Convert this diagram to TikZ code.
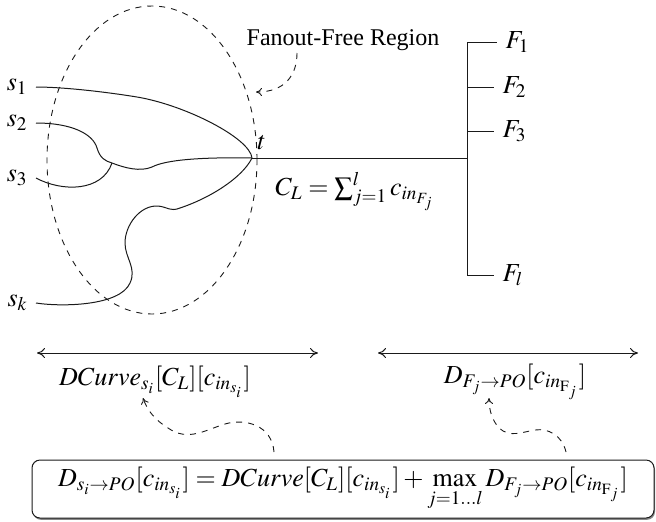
\documentclass[tikz,border=0pt]{standalone}
\usepackage{mathptmx}
\usepackage{fontspec}
\newfontfamily\labelfont{Liberation Serif}
\usetikzlibrary{arrows.meta, positioning, shapes.geometric, shadows}
\definecolor{cink}{HTML}{1A1A1A}
\definecolor{cshade}{HTML}{7A7A7A}
\tikzset{
  every picture/.style={line width=0.5pt},
  wire/.style={draw=cink},
  region/.style={ellipse, draw=cink, dashed, line width=0.45pt},
  pointer/.style={draw=cink, dashed, line width=0.45pt, -{To[length=3pt, width=4pt]}},
  span/.style={draw=cink, {To[length=4pt, width=5pt]}-{To[length=4pt, width=5pt]}},
  pin/.style={inner sep=4pt},
  formula/.style={draw=cink, rounded corners=4pt, fill=white,
    drop shadow={shadow xshift=0.5pt, shadow yshift=-0.9pt, fill=cshade, opacity=0.9}},
}

\begin{document}
\begin{tikzpicture}[x=0.5pt, y=-0.5pt,
    every node/.append style={font=\fontsize{13}{15.6}\selectfont},
  ]
  \useasboundingbox (0,0) rectangle (656,521);

  % fanout-free region
  \node[region, minimum width=105pt, minimum height=154pt] (ffr) at (152,160) {};
  \node[font=\labelfont\fontsize{12}{14.4}\selectfont] (ffrlab) at (343,40) {Fanout-Free Region};
  \coordinate (ffrfrom) at (297,53);
  \coordinate (ffrto) at (256,92);
  \draw[pointer] (ffrfrom) .. controls (297,75) and (285,92) .. (ffrto);

  % sources
  \node[pin, anchor=east] (s1) at (36,87)  {$s_1$};
  \node[pin, anchor=east] (s2) at (36,123) {$s_2$};
  \node[pin, anchor=east] (s3) at (36,178) {$s_3$};
  \node[pin, anchor=east] (sk) at (36,303) {$s_k$};
  \coordinate (t) at (252,158);
  \coordinate (merge) at (112,163);
  \node[anchor=south west, inner sep=1pt] (tlab) at (255,152) {$t$};

  \draw[wire] (s1.east) .. controls (60,87) and (100,91) .. (137,97)
    .. controls (185,105) and (250,138) .. (t);
  \draw[wire] (s2.east) .. controls (72,123) and (93,134) .. (97,148)
    .. controls (100,158) and (105,161) .. (merge)
    .. controls (125,168) and (140,172) .. (152,167)
    .. controls (165,160) and (200,157) .. (t);
  \draw[wire] (s3.east) .. controls (62,192) and (102,192) .. (merge);
  \draw[wire] (sk.east) .. controls (62,307) and (120,306) .. (130,283)
    .. controls (137,268) and (125,258) .. (125,243)
    .. controls (125,225) and (140,205) .. (158,206)
    .. controls (168,207) and (170,212) .. (180,208)
    .. controls (210,198) and (242,178) .. (t);

  % load and fanout branches
  \coordinate (bus) at (467,158);
  \coordinate (bustop) at (467,42);
  \coordinate (busbot) at (467,275);
  \draw[wire] (t) -- (bus);
  \draw[wire] (bustop) -- (busbot);
  \node[anchor=north] (cl) at (355,165) {$C_L = \sum_{j=1}^{l} c_{in_{F_j}}$};
  \node[pin, anchor=west] (f1) at (497,42)  {$F_1$};
  \node[pin, anchor=west] (f2) at (494,87)  {$F_2$};
  \node[pin, anchor=west] (f3) at (494,131) {$F_3$};
  \node[pin, anchor=west] (fl) at (494,275) {$F_l$};
  \foreach \f in {f1, f2, f3, fl} \draw[wire] (bustop |- \f.west) -- (\f.west);

  % delay spans
  \coordinate (lspanl) at (37,353);
  \coordinate (lspanr) at (318,353);
  \coordinate (rspanl) at (378,353);
  \coordinate (rspanr) at (638,353);
  \draw[span] (lspanl) -- (lspanr);
  \draw[span] (rspanl) -- (rspanr);
  \node (dcurve) at (155,382) {$DCurve_{s_i}[C_L][c_{in_{s_i}}]$};
  \node (dfj) at (515,382) {$D_{F_j\rightarrow PO}[c_{in_{\mathrm{F}_j}}]$};

  % total delay
  \node[formula, minimum width=311pt, minimum height=29pt] (eq) at (343,489)
    {$\displaystyle D_{s_i\rightarrow PO}[c_{in_{s_i}}] = DCurve[C_L][c_{in_{s_i}}]
      + \max_{j=1\ldots l} D_{F_j\rightarrow PO}[c_{in_{\mathrm{F}_j}}]$};
  \coordinate (dcfrom) at (274,452);
  \coordinate (dcto) at (143,398);
  \coordinate (dffrom) at (566,452);
  \coordinate (dfto) at (489,398);
  \draw[pointer] (dcfrom) .. controls (272,425) and (245,418) .. (225,424)
    .. controls (205,430) and (188,442) .. (168,428)
    .. controls (155,420) and (147,410) .. (dcto);
  \draw[pointer] (dffrom) .. controls (562,435) and (548,428) .. (535,430)
    .. controls (522,432) and (510,438) .. (499,428)
    .. controls (492,420) and (489,410) .. (dfto);
\end{tikzpicture}
\end{document}
